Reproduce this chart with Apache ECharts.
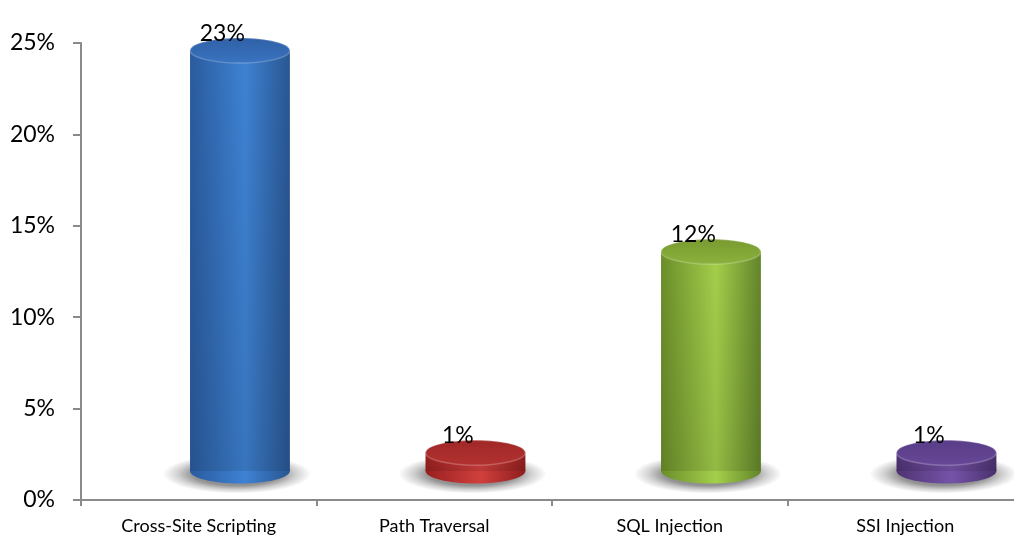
<!DOCTYPE html>
<html>
<head>
<meta charset="utf-8">
<script src="https://cdn.jsdelivr.net/npm/echarts@6/dist/echarts.min.js"></script>
<style>
  html, body { margin: 0; padding: 0; background: #fff; }
  #chart { width: 1014px; height: 536px; }
</style>
</head>
<body>
<div id="chart"></div>
<script>
// Attack categories and their share of findings (percent)
const categories = ['Cross-Site Scripting', 'Path Traversal', 'SQL Injection', 'SSI Injection'];
const shares = [23, 1, 12, 1];
const valueLabels = ['23%', '1%', '12%', '1%'];

// Value axis range and step (percent)
const axisMin = 0;
const axisMax = 25;
const axisStep = 5;

// Shading for each cylinder: [side edge, side highlight, side far edge, top back, top front]
const palettes = [
  ['#2a5b9e', '#3e82d3', '#295692', '#2f60a6', '#3a74c0'],
  ['#981f1f', '#d0403d', '#8f1e1e', '#a02827', '#b23130'],
  ['#6b8e2a', '#a4cf4b', '#63852a', '#789a30', '#8cb23d'],
  ['#4e3373', '#7653a8', '#4a316d', '#593d87', '#674797']
];

const FONT = 'Lato, "Open Sans", sans-serif';

function renderCylinder(params, api) {
  const idx = api.value(0);
  const v = api.value(1);
  const base = api.coord([idx, 0]);
  const top = api.coord([idx, v]);
  const band = api.size([1, 0])[0];

  // perspective: cylinders sit back from the axis plane
  const depthX = band * 0.175;
  const depthY = -29;
  const rx = band * 0.212;
  const ry = rx * 0.25;
  const cx = base[0] + depthX;
  const yb = base[1] + depthY;
  const yt = top[1] + depthY;
  const pal = palettes[params.dataIndex];

  const sideFill = new echarts.graphic.LinearGradient(0, 0, 1, 0, [
    { offset: 0, color: pal[0] },
    { offset: 0.55, color: pal[1] },
    { offset: 1, color: pal[2] }
  ]);
  const topFill = new echarts.graphic.LinearGradient(0, 0, 0, 1, [
    { offset: 0, color: pal[3] },
    { offset: 1, color: pal[4] }
  ]);
  const darken = new echarts.graphic.LinearGradient(0, 0, 0, 1, [
    { offset: 0, color: 'rgba(0,0,0,0)' },
    { offset: 1, color: 'rgba(0,0,0,0.10)' }
  ]);
  const shadowFill = new echarts.graphic.RadialGradient(0.5, 0.5, 0.5, [
    { offset: 0, color: 'rgba(0,0,0,0.55)' },
    { offset: 0.6, color: 'rgba(0,0,0,0.42)' },
    { offset: 0.8, color: 'rgba(0,0,0,0.18)' },
    { offset: 1, color: 'rgba(0,0,0,0)' }
  ]);
  const shadowR = rx + 24;

  return {
    type: 'group',
    children: [
      {
        // soft elliptical floor shadow under the base
        type: 'circle',
        x: cx - 3,
        y: yb + 3,
        scaleX: 1,
        scaleY: (ry + 7) / shadowR,
        shape: { cx: 0, cy: 0, r: shadowR },
        style: { fill: shadowFill },
        z2: 1
      },
      {
        type: 'ellipse',
        shape: { cx: cx, cy: yb, rx: rx, ry: ry },
        style: { fill: sideFill },
        z2: 2
      },
      {
        type: 'rect',
        shape: { x: cx - rx, y: yt, width: rx * 2, height: Math.max(yb - yt, 0) },
        style: { fill: sideFill },
        z2: 3
      },
      {
        type: 'rect',
        shape: { x: cx - rx, y: yt, width: rx * 2, height: Math.max(yb - yt, 0) },
        style: { fill: darken },
        z2: 4
      },
      {
        type: 'ellipse',
        shape: { cx: cx, cy: yt, rx: rx, ry: ry },
        style: { fill: topFill, stroke: 'rgba(255,255,255,0.22)', lineWidth: 1.5 },
        z2: 5
      },
      {
        type: 'text',
        x: api.coord([idx, 0])[0] + band * 0.10,
        y: yt - ry - 5,
        style: {
          text: valueLabels[params.dataIndex],
          font: '23px ' + FONT,
          fill: '#000',
          align: 'center',
          verticalAlign: 'middle'
        },
        z2: 10
      }
    ]
  };
}

const chart = echarts.init(document.getElementById('chart'), null, { renderer: 'canvas' });

chart.setOption({
  animation: false,
  backgroundColor: '#ffffff',
  grid: { left: 81, width: 942, top: 43, bottom: 36, containLabel: false, outerBoundsMode: 'none' },
  xAxis: {
    type: 'category',
    data: categories,
    boundaryGap: true,
    axisLine: { show: true, lineStyle: { color: '#8a8a8a', width: 2 } },
    axisTick: { show: true, length: 6, lineStyle: { color: '#8a8a8a', width: 2 } },
    axisLabel: { color: '#000', fontFamily: FONT, fontSize: 18, margin: 17, interval: 0 },
    splitLine: { show: false }
  },
  yAxis: {
    type: 'value',
    min: axisMin,
    max: axisMax,
    interval: axisStep,
    axisLine: { show: true, lineStyle: { color: '#8a8a8a', width: 2 } },
    axisTick: { show: true, length: 8, lineStyle: { color: '#8a8a8a', width: 2 } },
    axisLabel: { color: '#000', fontFamily: FONT, fontSize: 23, margin: 26, formatter: '{value}%' },
    splitLine: { show: false }
  },
  series: [{
    type: 'custom',
    renderItem: renderCylinder,
    encode: { x: 0, y: 1 },
    data: shares.map((s, i) => [i, s]),
    clip: false
  }]
});
</script>
</body>
</html>
